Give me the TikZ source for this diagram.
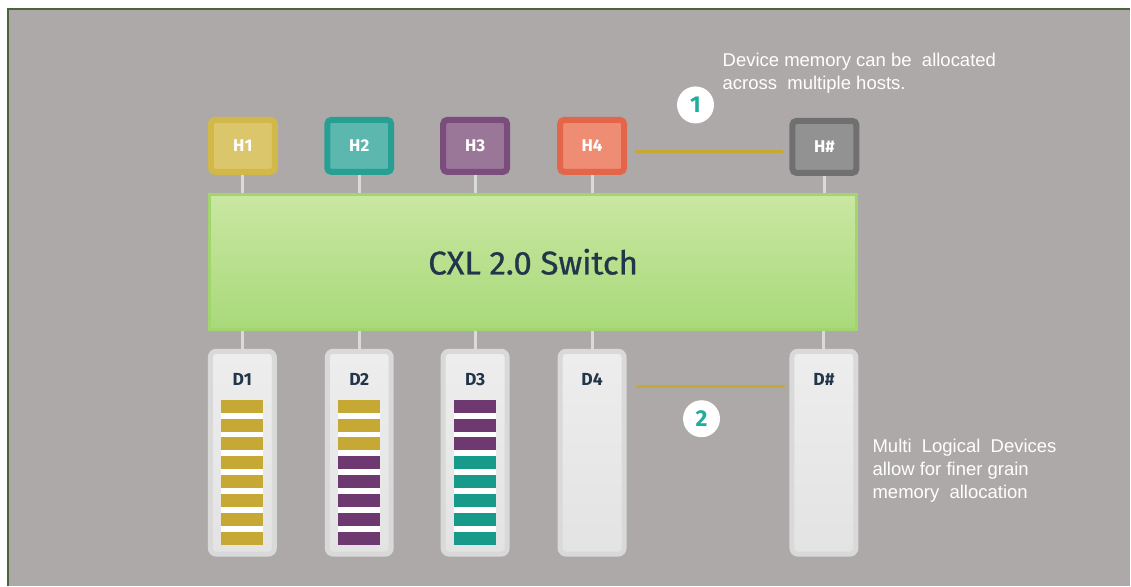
\documentclass[tikz,border=0pt]{standalone}
\usepackage{fontspec}
\setmainfont{Fira Sans}
\newfontfamily\notefont{Liberation Sans}
\newfontfamily\switchfont[FakeBold=0.8]{Fira Sans}

\definecolor{canvas}{RGB}{173,169,168}
\definecolor{frameline}{RGB}{74,100,62}
\definecolor{memgold}{HTML}{C6A935}
\definecolor{mempurple}{HTML}{6E3870}
\definecolor{memteal}{HTML}{189A8B}
\definecolor{labelnavy}{HTML}{22354A}
\definecolor{numteal}{HTML}{1FAE9C}
\definecolor{wire}{HTML}{DADADA}
\definecolor{hAo}{HTML}{D2B848}\definecolor{hAi}{HTML}{DCC66C}
\definecolor{hBo}{HTML}{27A093}\definecolor{hBi}{HTML}{5CB8AE}
\definecolor{hCo}{HTML}{7B4D7D}\definecolor{hCi}{HTML}{9A7699}
\definecolor{hDo}{HTML}{E4664A}\definecolor{hDi}{HTML}{EE8C74}
\definecolor{hXo}{HTML}{707070}\definecolor{hXi}{HTML}{929292}
\definecolor{swtop}{HTML}{C9E7A2}
\definecolor{swbot}{HTML}{A9D97A}
\definecolor{swedge}{HTML}{A3D56E}

\begin{document}
\begin{tikzpicture}[x=1pt,y=-1pt,
  host/.style 2 args={rectangle, rounded corners=4pt, minimum width=64pt,
    minimum height=52pt, line width=6pt, draw=#1, fill=#2, inner sep=0pt,
    text=white, font=\bfseries\fontsize{17}{17}\selectfont},
  switchbox/.style={rectangle, minimum width=648pt, minimum height=135pt,
    line width=3pt, draw=swedge, top color=swtop, bottom color=swbot,
    text=labelnavy, font=\switchfont\fontsize{33}{33}\selectfont},
  device/.style={rectangle, rounded corners=6pt, minimum width=64pt,
    minimum height=203pt, line width=5pt, draw=black!15,
    top color=black!7, bottom color=black!11},
  devlabel/.style={text=labelnavy, font=\bfseries\fontsize{17.5}{17.5}\selectfont},
  link/.style={draw=wire, line width=3pt},
  span/.style={draw=memgold, line width=3pt},
  badge/.style={circle, fill=white, minimum size=37pt, inner sep=0pt,
    text=numteal, font=\bfseries\fontsize{23}{23}\selectfont},
  note/.style={text=white, align=left, anchor=north west, inner sep=0pt,
    font=\notefont\fontsize{18.5}{23}\selectfont},
]
% page and canvas
\fill[white] (0,0) rectangle (1131,586);
\fill[canvas] (8,9) rectangle (1131,586);
\draw[frameline, line width=1.6pt] (8,586) -- (8,9) -- (1131,9);
\useasboundingbox (0,0) rectangle (1131,586);

% hosts
\node[host={hAo}{hAi}] (h1) at (243,146) {H1};
\node[host={hBo}{hBi}] (h2) at (359.5,146) {H2};
\node[host={hCo}{hCi}] (h3) at (475.5,146) {H3};
\node[host={hDo}{hDi}] (h4) at (592.5,146) {H4};
\node[host={hXo}{hXi}] (hx) at (825,147) {H\#};

% switch
\node[switchbox] (sw) at (533.5,262) {CXL 2.0 Switch};

% devices
\node[device] (d1) at (242.5,453) {};
\node[device] (d2) at (359.5,453) {};
\node[device] (d3) at (475.5,453) {};
\node[device] (d4) at (592.5,453) {};
\node[device] (dx) at (824.5,453) {};
\foreach \d/\t in {d1/D1,d2/D2,d3/D3,d4/D4,dx/D\#}
  \node[devlabel] (\d lab) at ([yshift=-31pt]\d.north) {\t};

% host and device links to the switch
\foreach \h in {h1,h2,h3,h4,hx}
  \draw[link] (\h.south) -- (\h.south |- sw.north);
\foreach \d in {d1,d2,d3,d4,dx}
  \draw[link] (\d.north |- sw.south) -- (\d.north);

% memory slices inside the multi-logical devices
\foreach \cx/\cols in {242.5/{memgold,memgold,memgold,memgold,memgold,memgold,memgold,memgold},
                       359.5/{memgold,memgold,memgold,mempurple,mempurple,mempurple,mempurple,mempurple},
                       475.5/{mempurple,mempurple,mempurple,memteal,memteal,memteal,memteal,memteal}}{
  \fill[white] (\cx-21,400) rectangle (\cx+21,545);
  \foreach \c [count=\i from 0] in \cols
    \fill[\c] (\cx-21,400+18.9*\i) rectangle (\cx+21,413+18.9*\i);
}

% spans across hosts and devices
\draw[span] ([xshift=8pt,yshift=-6pt]h4.east) -- ([xshift=-6pt,yshift=-5pt]hx.west);
\draw[span] ([xshift=9pt,yshift=-7pt]d4.north east |- d4lab.center) -- ([xshift=-4pt,yshift=-7pt]dx.north west |- dxlab.center);

\node[badge] (b1) at (696,105) {1};
\node[badge] (b2) at (702,419) {2};

\node[note] (n1) at (723,53) {Device memory can be\ \ allocated\\across\ \ multiple hosts.};
\node[note] (n2) at (873,439) {Multi\ \ Logical\ \ Devices\\allow for finer grain\\memory\ \ allocation};
\end{tikzpicture}
\end{document}
